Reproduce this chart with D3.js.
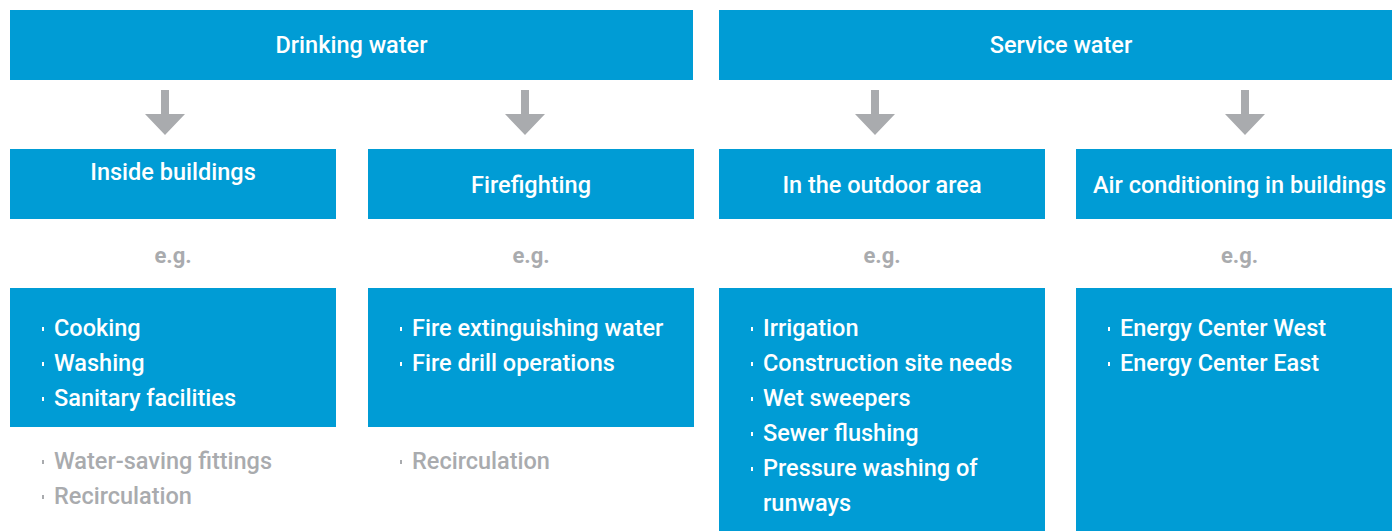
<!DOCTYPE html>
<html>
<head>
<meta charset="utf-8">
<script src="https://cdn.jsdelivr.net/npm/d3@7"></script>
<style>
  html, body { margin: 0; padding: 0; background: #ffffff; }
  svg { display: block; }
  text { font-family: Roboto, "Open Sans", sans-serif; }
</style>
</head>
<body>
<svg id="chart" width="1392" height="531"></svg>
<script>
// ---- data ----
const topCategories = ["Drinking water", "Service water"];
const subCategories = ["Inside buildings", "Firefighting", "In the outdoor area", "Air conditioning in buildings"];
const subParent = [0, 0, 1, 1];
const exampleLabel = "e.g.";
const examples = [
  ["Cooking", "Washing", "Sanitary facilities"],
  ["Fire extinguishing water", "Fire drill operations"],
  ["Irrigation", "Construction site needs", "Wet sweepers", "Sewer flushing", ["Pressure washing of", "runways"]],
  ["Energy Center West", "Energy Center East"]
];
const measures = [
  ["Water-saving fittings", "Recirculation"],
  ["Recirculation"],
  [],
  []
];

// ---- layout ----
const BLUE = "#009cd5", GRAY = "#a9abae";
const colX = [10, 368, 719, 1076];
const colRight = [336, 694, 1045, 1403];
const topSpanX = [[10, 693], [719, 1403]];
const arrowX = [165, 525, 875, 1245];
const topY = 10, topH = 70;
const subY = 149, subH = 70;
const exY = 288;
const exH = [139, 139, 260, 260];
const lineH = 35;
const fs = 23.5;

const svg = d3.select("#chart");
const xCol = d3.scaleOrdinal().domain(d3.range(4)).range(colX);
const xColR = d3.scaleOrdinal().domain(d3.range(4)).range(colRight);

// top boxes
const topSpans = topCategories.map((t, i) => ({ t, x0: topSpanX[i][0], x1: topSpanX[i][1] }));
const gTop = svg.append("g").selectAll("g").data(topSpans).join("g");
gTop.append("rect")
  .attr("x", d => d.x0).attr("y", topY)
  .attr("width", d => d.x1 - d.x0).attr("height", topH)
  .attr("fill", BLUE);
gTop.append("text")
  .attr("x", d => (d.x0 + d.x1) / 2).attr("y", topY + topH / 2)
  .attr("dy", "0.35em").attr("text-anchor", "middle")
  .attr("fill", "#fff").attr("font-size", fs).attr("font-weight", 500)
  .text(d => d.t);

// arrows
svg.append("g").selectAll("path").data(arrowX).join("path")
  .attr("d", x => {
    const p = d3.path();
    p.moveTo(x - 4, 90); p.lineTo(x + 4, 90); p.lineTo(x + 4, 114);
    p.lineTo(x + 20, 114); p.lineTo(x, 135); p.lineTo(x - 20, 114);
    p.lineTo(x - 4, 114); p.closePath();
    return p.toString();
  })
  .attr("fill", GRAY);

// sub boxes
const gSub = svg.append("g").selectAll("g").data(subCategories).join("g");
gSub.append("rect")
  .attr("x", (d, i) => xCol(i)).attr("y", subY)
  .attr("width", (d, i) => xColR(i) - xCol(i)).attr("height", subH)
  .attr("fill", BLUE);
gSub.append("text")
  .attr("x", (d, i) => (xCol(i) + xColR(i)) / 2)
  .attr("y", (d, i) => i === 0 ? 172 : 185)
  .attr("dy", "0.35em").attr("text-anchor", "middle")
  .attr("fill", "#fff").attr("font-size", fs).attr("font-weight", 500)
  .text(d => d);

// e.g.
svg.append("g").selectAll("text").data(subCategories).join("text")
  .attr("x", (d, i) => (xCol(i) + xColR(i)) / 2)
  .attr("y", 255).attr("dy", "0.35em").attr("text-anchor", "middle")
  .attr("fill", GRAY).attr("font-size", 22).attr("font-weight", "bold")
  .text(exampleLabel);

// example boxes
const gEx = svg.append("g").selectAll("g").data(examples).join("g");
gEx.append("rect")
  .attr("x", (d, i) => xCol(i)).attr("y", exY)
  .attr("width", (d, i) => xColR(i) - xCol(i))
  .attr("height", (d, i) => exH[i])
  .attr("fill", BLUE);

function drawList(g, items, colIdx, startY, color) {
  let line = 0;
  items.forEach(item => {
    const lines = Array.isArray(item) ? item : [item];
    const cx = xCol(colIdx);
    g.append("rect")
      .attr("x", cx + 32).attr("y", startY + line * lineH - 1)
      .attr("width", 2).attr("height", 4)
      .attr("fill", color);
    lines.forEach((l, k) => {
      g.append("text")
        .attr("x", cx + 44).attr("y", startY + (line + k) * lineH)
        .attr("dy", "0.35em")
        .attr("fill", color).attr("font-size", fs).attr("font-weight", 500)
        .text(l);
    });
    line += lines.length;
  });
}
gEx.each(function (d, i) { drawList(d3.select(this), d, i, 328, "#fff"); });

const gMeas = svg.append("g");
measures.forEach((m, i) => drawList(gMeas, m, i, 461, GRAY));
</script>
</body>
</html>
